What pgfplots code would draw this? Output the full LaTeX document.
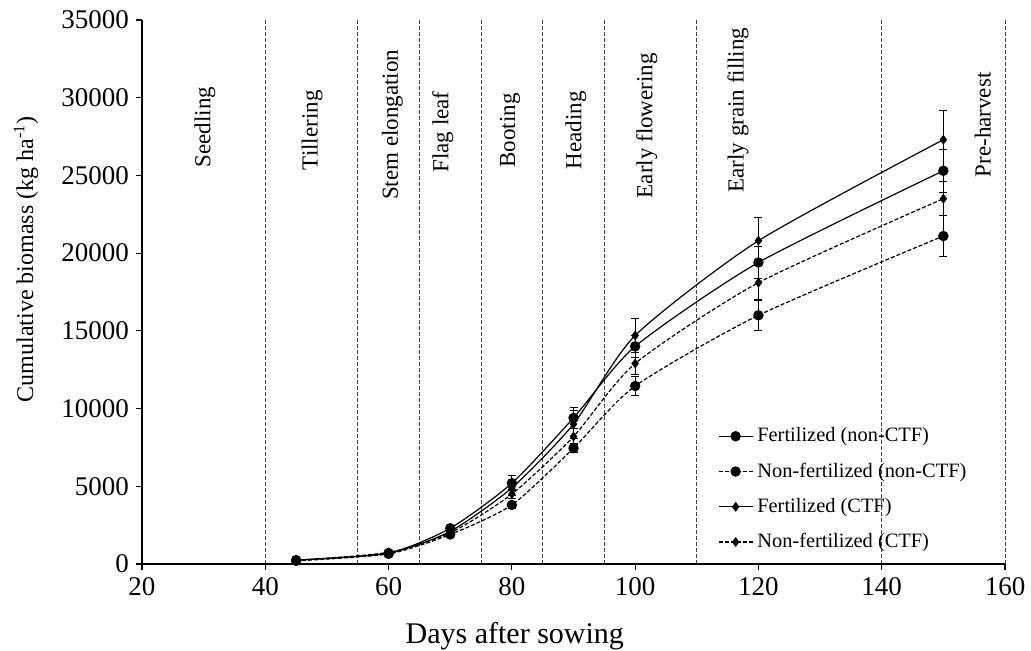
\documentclass[border=0pt]{standalone}
\usepackage{pgfplots}
\pgfplotsset{compat=1.18}
\usepackage{pgfplotstable}
\usepackage{fontspec}
\setmainfont{Liberation Serif}

\pgfplotstableread{
x y e
45 250 50
60 700 80
70 2300 200
80 5200 500
90 9400 700
100 14000 700
120 19400 1000
150 25300 1400
}\fnc
\pgfplotstableread{
x y e
45 200 40
60 650 60
70 1900 150
80 3800 250
90 7450 300
100 11450 600
120 16000 950
150 21100 1300
}\nnc
\pgfplotstableread{
x y e
45 250 50
60 700 80
70 2100 200
80 4900 500
90 9000 900
100 14700 1100
120 20800 1500
150 27300 1900
}\fc
\pgfplotstableread{
x y e
45 230 40
60 750 70
70 2000 150
80 4500 300
90 8200 500
100 12900 700
120 18100 1100
150 23500 1100
}\nc

\begin{document}
\begin{tikzpicture}
\path[use as bounding box] (-71pt,-43.5pt) rectangle (444.5pt,282pt);
\begin{axis}[
  at={(0,0)}, anchor=south west,
  scale only axis, width=431.5pt, height=272pt,
  xmin=20, xmax=160, ymin=0, ymax=35000,
  xtick={20,40,...,160}, ytick={0,5000,...,35000},
  axis x line*=bottom, axis y line*=left,
  axis line style={black, line width=0.6pt},
  tick align=outside, major tick length=3pt,
  tick style={black, line width=0.6pt},
  scaled y ticks=false,
  /pgf/number format/1000 sep={},
  /pgf/number format/assume math mode=true,
  tick label style={font=\fontsize{13.5}{16}\selectfont},
  xlabel={Days after sowing},
  ylabel={Cumulative biomass (kg ha\textsuperscript{-1})},
  every axis x label/.style={at={(axis description cs:0.432,-0.132)}, anchor=center, font=\fontsize{15}{17}\selectfont},
  every axis y label/.style={at={(axis description cs:-0.1344,0.56)}, rotate=90, anchor=center, font=\fontsize{12}{14}\selectfont},
  legend style={at={(0.66,0.266)}, anchor=north west, draw=none, fill=none,
    font=\fontsize{10.2}{12}\selectfont, row sep=5pt,
    legend cell align=left},
  vl/.style={black!75, line width=0.5pt, dash pattern=on 2pt off 1pt, forget plot},
  clip=false,
]
\addplot[vl] coordinates {(40,0) (40,35000)};
\addplot[vl] coordinates {(55,0) (55,35000)};
\addplot[vl] coordinates {(65,0) (65,35000)};
\addplot[vl] coordinates {(75,0) (75,35000)};
\addplot[vl] coordinates {(85,0) (85,35000)};
\addplot[vl] coordinates {(95,0) (95,35000)};
\addplot[vl] coordinates {(110,0) (110,35000)};
\addplot[vl] coordinates {(140,0) (140,35000)};
\addplot[vl] coordinates {(160,0) (160,35000)};

\addplot[black, line width=0.6pt, smooth, tension=0.4, mark=*, mark size=2.3pt, mark options={solid},
  error bars/.cd, y dir=both, y explicit, error mark options={rotate=90, mark size=2pt, solid, line width=0.5pt}, error bar style={solid, line width=0.5pt}]
  table[x=x, y=y, y error=e] {\fnc};
\addlegendentry{Fertilized (non-CTF)}
\addplot[black, line width=0.6pt, dash pattern=on 2pt off 1pt, smooth, tension=0.4, mark=*, mark size=2.3pt, mark options={solid},
  error bars/.cd, y dir=both, y explicit, error mark options={rotate=90, mark size=2pt, solid, line width=0.5pt}, error bar style={solid, line width=0.5pt}]
  table[x=x, y=y, y error=e] {\nnc};
\addlegendentry{Non-fertilized (non-CTF)}
\addplot[black, line width=0.6pt, smooth, tension=0.4, mark=diamond*, mark size=2pt, mark options={solid},
  error bars/.cd, y dir=both, y explicit, error mark options={rotate=90, mark size=2pt, solid, line width=0.5pt}, error bar style={solid, line width=0.5pt}]
  table[x=x, y=y, y error=e] {\fc};
\addlegendentry{Fertilized (CTF)}
\addplot[black, line width=0.6pt, dash pattern=on 2pt off 1pt, smooth, tension=0.4, mark=diamond*, mark size=2pt, mark options={solid},
  error bars/.cd, y dir=both, y explicit, error mark options={rotate=90, mark size=2pt, solid, line width=0.5pt}, error bar style={solid, line width=0.5pt}]
  table[x=x, y=y, y error=e] {\nc};
\addlegendentry{Non-fertilized (CTF)}

\begin{scope}[every node/.style={rotate=90, anchor=center, font=\fontsize{11.5}{13}\selectfont}]
\node at (axis cs:30.2,28100) {Seedling};
\node at (axis cs:47.6,27900) {Tillering};
\node at (axis cs:60.6,28250) {Stem elongation};
\node at (axis cs:68.8,27800) {Flag leaf};
\node at (axis cs:79.7,27900) {Booting};
\node at (axis cs:90.4,27900) {Heading};
\node at (axis cs:101.9,28200) {Early flowering};
\node at (axis cs:116.7,29200) {Early grain filling};
\node at (axis cs:156.4,28250) {Pre-harvest};
\end{scope}
\end{axis}
\end{tikzpicture}
\end{document}
